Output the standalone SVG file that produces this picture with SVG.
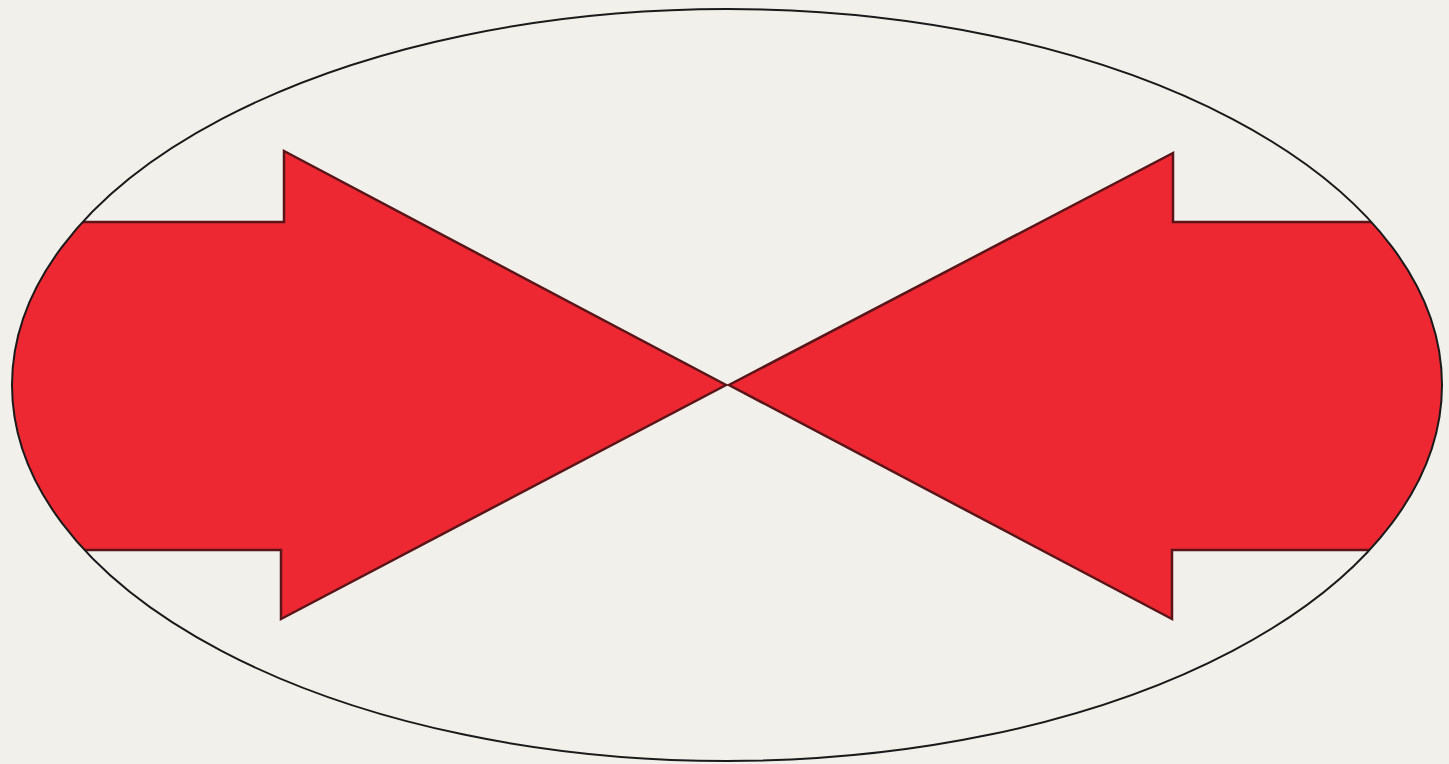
<svg xmlns="http://www.w3.org/2000/svg" width="1449" height="764" viewBox="0 0 1449 764">
<style>
.arrow{fill:#ee2833;stroke:#5a1518;stroke-width:2.5;stroke-linejoin:miter}
.oval{fill:none;stroke:#1a1a1a;stroke-width:2}
</style>
<defs>
<clipPath id="clip"><ellipse cx="727" cy="385" rx="715" ry="376"/></clipPath>
</defs>
<rect width="1449" height="764" fill="#f2f0eb"/>
<g id="arrows" clip-path="url(#clip)">
<g id="left-arrow"><path class="arrow" d="M0,222 H284 V151 L726,385 L281,619 V550 H0 Z"/></g>
<g id="right-arrow"><path class="arrow" d="M1449,222 H1173 V153 L729,385 L1172,619 V550 H1449 Z"/></g>
</g>
<g id="oval"><ellipse class="oval" cx="727" cy="385" rx="715" ry="376"/></g>
</svg>
